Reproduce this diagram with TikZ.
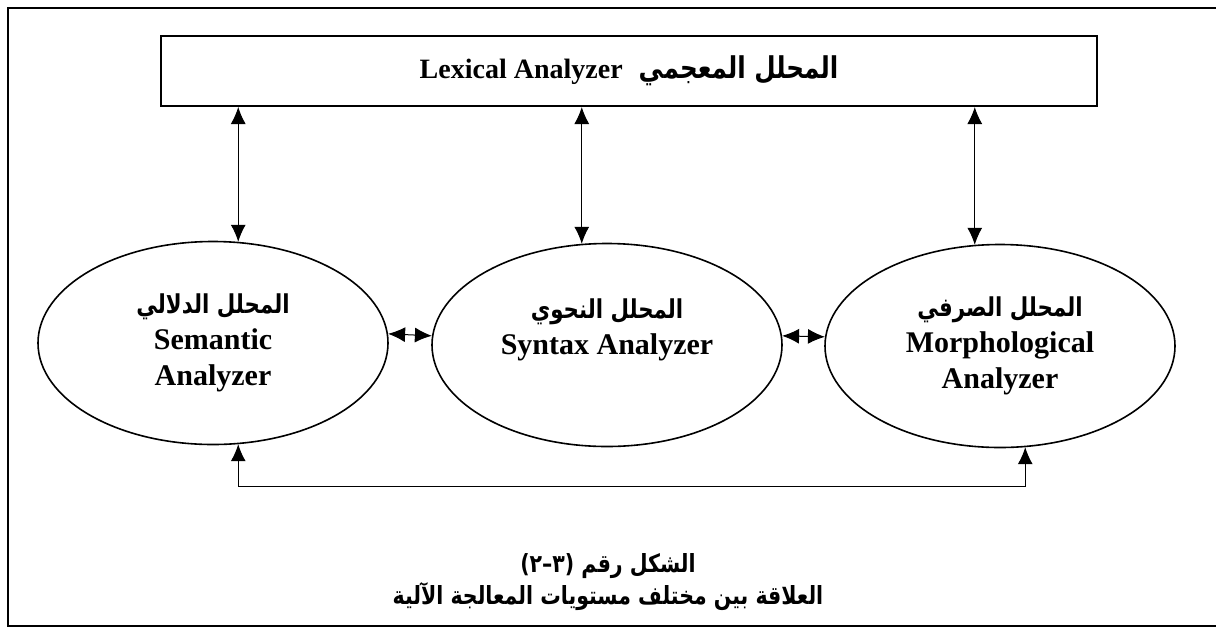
\documentclass[tikz,border=0pt]{standalone}
\usepackage{fontspec}
\setmainfont{Liberation Serif}
\newfontfamily\arabicfont[Script=Arabic,FakeStretch=0.82]{DejaVu Sans}
\TeXXeTstate=1
\usetikzlibrary{shapes.geometric,arrows.meta,calc}

\newcommand{\artext}[1]{{\arabicfont\bfseries\beginR #1\endR}}

\begin{document}
\begin{tikzpicture}[x=0.5pt,y=-0.5pt,
  frame/.style={line width=1pt},
  lexbox/.style={draw,line width=1pt,minimum width=468pt,minimum height=35pt,inner sep=0pt,
    font=\bfseries\fontsize{14}{17}\selectfont},
  analyzer/.style={draw,ellipse,line width=0.8pt,minimum width=175pt,minimum height=101.5pt,
    inner sep=0pt,align=center,font=\bfseries\fontsize{15}{18}\selectfont},
  tip/.tip={Latex[length=8.5pt,width=7.5pt]},
  link/.style={line width=0.5pt,tip-tip},
  caption/.style={inner sep=0pt,font=\fontsize{12.5}{15}\selectfont}
]
\useasboundingbox (0,0) rectangle (1216,628);

% outer frame, open on the right
\draw[frame] (1216,8) -- (8,8) -- (8,626) -- (1216,626);

% lexical analyzer box
\node[lexbox] (lex) at (629,71)
  {Lexical Analyzer\hspace{8pt}\artext{\fontsize{15}{17}\selectfont المحلل المعجمي}};

% the three analyzers
\node[analyzer] (sem) at (213,343)
  {\artext{\fontsize{13}{15}\selectfont المحلل الدلالي}\\ Semantic\\ Analyzer};
\node[analyzer] (syn) at (607,345)
  {\artext{\fontsize{13}{15}\selectfont المحلل النحوي}\\ Syntax Analyzer\\ \mbox{}};
\node[analyzer] (mor) at (1000,346)
  {\artext{\fontsize{13}{15}\selectfont المحلل الصرفي}\\ Morphological\\ Analyzer};

% links to the lexical analyzer
\draw[link] (lex.south -| sem.76) -- (sem.76);
\draw[link] (lex.south -| syn.104) -- (syn.104);
\draw[link] (lex.south -| mor.104) -- (mor.104);

% links between neighbouring analyzers
\draw[link] (sem.3) -- (syn.177);
\draw[link] (syn.3) -- (mor.177);

% semantic <-> morphological loop underneath
\draw[link] (sem.-76) -- ++(0,42) -| (mor.-76);

% caption
\node[caption] (cap1) at (608,566)
  {\artext{الشكل رقم (٣–٢)}};
\node[caption] (cap2) at (608,597)
  {\artext{العلاقة بين مختلف مستويات المعالجة الآلية}};
\end{tikzpicture}
\end{document}
